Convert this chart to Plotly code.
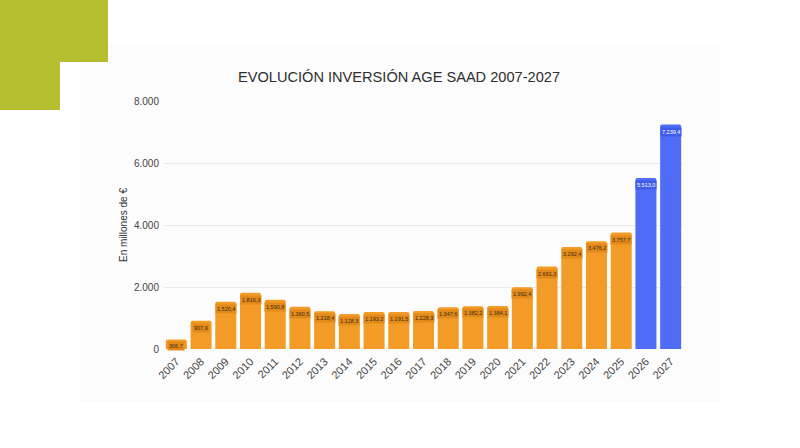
import plotly.graph_objects as go

years = [str(y) for y in range(2007, 2028)]
values = [306.7, 907.9, 1520.4, 1816.3, 1590.8, 1360.5, 1218.4, 1128.3, 1193.2, 1191.5,
          1228.3, 1347.6, 1382.2, 1384.1, 1992.4, 2661.3, 3292.4, 3476.2, 3757.7, 5513.0, 7239.4]
projected = [False] * 19 + [True, True]
y_ticks = [0, 2000, 4000, 6000, 8000]
y_tick_labels = ["0", "2.000", "4.000", "6.000", "8.000"]

ORANGE = "#f39b27"
BLUE = "#4f6cf6"

def es(v):
    s = f"{v:,.1f}"
    return s.replace(",", "X").replace(".", ",").replace("X", ".")

W, H = 800, 448
L, R, T, B = 164, 117, 101, 99
pw, ph = W - L - R, H - T - B

def px(x):
    return (x - L) / pw

def py(y):
    return (H - B - y) / ph

colors = [BLUE if p else ORANGE for p in projected]

fig = go.Figure()
fig.add_trace(go.Bar(x=years, y=values, marker=dict(color=colors, line=dict(width=0)),
                     hoverinfo="x+y"))

annotations = []
for i, (v, p) in enumerate(zip(values, projected)):
    annotations.append(dict(
        x=i, y=v, xref="x", yref="y", text=es(v), showarrow=False,
        yanchor="top", yshift=-2,
        font=dict(size=5.5, color="#ffffff" if p else "#3a2a10", family="Liberation Sans"),
        bgcolor="#3f5ce8" if p else "#e48a1a", borderpad=1,
    ))

shapes = [
    dict(type="rect", xref="paper", yref="paper", x0=px(80), x1=px(720), y0=py(402), y1=py(45),
         fillcolor="#fcfcfc", line=dict(width=0), layer="below"),
    dict(type="rect", xref="paper", yref="paper", x0=px(0), x1=px(108), y0=py(62), y1=py(0),
         fillcolor="#b5be2f", line=dict(width=0), layer="above"),
    dict(type="rect", xref="paper", yref="paper", x0=px(0), x1=px(60), y0=py(110), y1=py(61),
         fillcolor="#b5be2f", line=dict(width=0), layer="above"),
]

annotations.append(dict(
    x=px(399), y=py(77), xref="paper", yref="paper", text="EVOLUCIÓN INVERSIÓN AGE SAAD 2007-2027",
    showarrow=False, font=dict(size=14.6, color="#2e2e2e", family="Liberation Sans"),
    xanchor="center", yanchor="middle"))

fig.update_layout(
    width=W, height=H,
    margin=dict(l=L, r=R, t=T, b=B, pad=0),
    paper_bgcolor="#ffffff", plot_bgcolor="rgba(0,0,0,0)",
    bargap=0.15, barcornerradius=2,
    showlegend=False,
    font=dict(family="Liberation Sans", color="#444444"),
    annotations=annotations, shapes=shapes,
    xaxis=dict(type="category", range=[-0.5, len(years) - 0.5], tickangle=-45,
               tickfont=dict(size=11, color="#444444"), ticklabelstandoff=3,
               showgrid=False, showline=False, ticks="", automargin=False),
    yaxis=dict(range=[0, 8000], tickvals=y_ticks, ticktext=y_tick_labels,
               tickfont=dict(size=10, color="#444444"), gridcolor="#e8e8e8", gridwidth=1,
               zeroline=False, showline=False, ticks="", ticklabelstandoff=4, automargin=False,
               title=dict(text="En millones de €", font=dict(size=10, color="#333333"), standoff=4)),
)

fig.write_html("out.html")
